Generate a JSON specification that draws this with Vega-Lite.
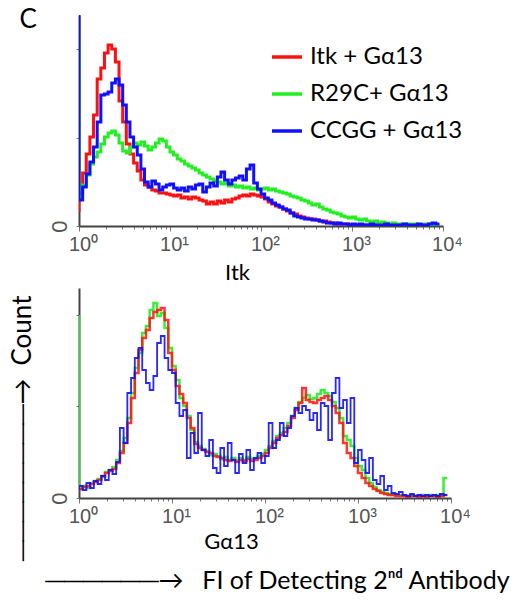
{
"$schema": "https://vega.github.io/schema/vega-lite/v6.json",
"background": "white",
"padding": {"left": 8, "top": 6, "right": 5, "bottom": 5},
"config": {"view": {"stroke": null}, "axis": {"grid": false}},
"datasets": {
"top": [
{"x":1,"r":14,"g":189,"b":211},
{"x":1.096,"r":33,"g":29,"b":26},
{"x":1.202,"r":53,"g":41,"b":39},
{"x":1.318,"r":72,"g":51,"b":52},
{"x":1.445,"r":89,"g":62,"b":64},
{"x":1.585,"r":111,"g":69,"b":79},
{"x":1.738,"r":147,"g":74,"b":104},
{"x":1.905,"r":158,"g":82,"b":131},
{"x":2.089,"r":173,"g":89,"b":132},
{"x":2.291,"r":181,"g":93,"b":134},
{"x":2.512,"r":177,"g":95,"b":143},
{"x":2.754,"r":164,"g":91,"b":147},
{"x":3.02,"r":125,"g":83,"b":141},
{"x":3.311,"r":104,"g":75,"b":121},
{"x":3.631,"r":82,"g":73,"b":104},
{"x":3.981,"r":72,"g":79,"b":89},
{"x":4.365,"r":63,"g":83,"b":79},
{"x":4.786,"r":55,"g":81,"b":71},
{"x":5.248,"r":46,"g":84,"b":57},
{"x":5.754,"r":41,"g":80,"b":44},
{"x":6.31,"r":39,"g":76,"b":39},
{"x":6.918,"r":36,"g":79,"b":45},
{"x":7.586,"r":35,"g":83,"b":42},
{"x":8.318,"r":33,"g":87,"b":36},
{"x":9.12,"r":33,"g":85,"b":39},
{"x":10,"r":32,"g":79,"b":41},
{"x":10.96,"r":31,"g":74,"b":42},
{"x":12.02,"r":30,"g":71,"b":38},
{"x":13.18,"r":31,"g":67,"b":36},
{"x":14.45,"r":28,"g":65,"b":38},
{"x":15.85,"r":29,"g":62,"b":35},
{"x":17.38,"r":27,"g":60,"b":39},
{"x":19.05,"r":29,"g":58,"b":37},
{"x":20.89,"r":28,"g":56,"b":41},
{"x":22.91,"r":26,"g":53,"b":42},
{"x":25.12,"r":25,"g":51,"b":34},
{"x":27.54,"r":22,"g":49,"b":39},
{"x":30.2,"r":24,"g":47,"b":43},
{"x":33.11,"r":22,"g":45,"b":40},
{"x":36.31,"r":25,"g":44,"b":49},
{"x":39.81,"r":23,"g":42,"b":54},
{"x":43.65,"r":26,"g":43,"b":46},
{"x":47.86,"r":24,"g":40,"b":42},
{"x":52.48,"r":27,"g":41,"b":46},
{"x":57.54,"r":28,"g":39,"b":48},
{"x":63.1,"r":30,"g":40,"b":50},
{"x":69.18,"r":31,"g":38,"b":46},
{"x":75.86,"r":30,"g":39,"b":57},
{"x":83.18,"r":32,"g":37,"b":61},
{"x":91.2,"r":31,"g":38,"b":43},
{"x":100,"r":30,"g":36,"b":37},
{"x":109.6,"r":29,"g":37,"b":32},
{"x":120.2,"r":27,"g":38,"b":28},
{"x":131.8,"r":24,"g":36,"b":26},
{"x":144.5,"r":22,"g":37,"b":23},
{"x":158.5,"r":20,"g":35,"b":21},
{"x":173.8,"r":19,"g":34,"b":19},
{"x":190.5,"r":17,"g":33,"b":17},
{"x":208.9,"r":15,"g":32,"b":16},
{"x":229.1,"r":13,"g":30,"b":13},
{"x":251.2,"r":12,"g":29,"b":10},
{"x":275.4,"r":10,"g":28,"b":9},
{"x":302,"r":9,"g":26,"b":8},
{"x":331.1,"r":8,"g":25,"b":7},
{"x":363.1,"r":7,"g":23,"b":7},
{"x":398.1,"r":7,"g":21,"b":6},
{"x":436.5,"r":6,"g":22,"b":6},
{"x":478.6,"r":5,"g":19,"b":5},
{"x":524.8,"r":5,"g":17,"b":4},
{"x":575.4,"r":4,"g":16,"b":3},
{"x":631,"r":3,"g":14,"b":3},
{"x":691.8,"r":3,"g":13,"b":2},
{"x":758.6,"r":2,"g":12,"b":3},
{"x":831.8,"r":2,"g":10,"b":2},
{"x":912,"r":2,"g":9,"b":2},
{"x":1000,"r":1,"g":8,"b":1},
{"x":1096,"r":1,"g":9,"b":2},
{"x":1202,"r":1,"g":7,"b":1},
{"x":1318,"r":1,"g":6,"b":2},
{"x":1445,"r":1,"g":7,"b":1},
{"x":1585,"r":1,"g":5,"b":1},
{"x":1738,"r":1,"g":4,"b":2},
{"x":1905,"r":1,"g":5,"b":1},
{"x":2089,"r":1,"g":3,"b":1},
{"x":2291,"r":1,"g":4,"b":1},
{"x":2512,"r":1,"g":3,"b":2},
{"x":2754,"r":1,"g":2,"b":1},
{"x":3020,"r":1,"g":3,"b":1},
{"x":3311,"r":1,"g":2,"b":1},
{"x":3631,"r":1,"g":2,"b":1},
{"x":3981,"r":1,"g":1,"b":2},
{"x":4365,"r":1,"g":2,"b":1},
{"x":4786,"r":1,"g":1,"b":1},
{"x":5248,"r":1,"g":2,"b":1},
{"x":5754,"r":1,"g":1,"b":2},
{"x":6310,"r":1,"g":1,"b":1},
{"x":6918,"r":1,"g":2,"b":1},
{"x":7586,"r":1,"g":1,"b":2},
{"x":8318,"r":1,"g":1,"b":3},
{"x":9120,"r":1,"g":1,"b":2}
],
"bot": [
{"x":1,"r":8,"g":183,"b":8},
{"x":1.096,"r":9,"g":9,"b":12},
{"x":1.202,"r":11,"g":12,"b":8},
{"x":1.318,"r":12,"g":10,"b":15},
{"x":1.445,"r":14,"g":15,"b":10},
{"x":1.585,"r":16,"g":17,"b":17},
{"x":1.738,"r":18,"g":19,"b":14},
{"x":1.905,"r":22,"g":21,"b":22},
{"x":2.089,"r":25,"g":26,"b":18},
{"x":2.291,"r":27,"g":28,"b":28},
{"x":2.512,"r":29,"g":31,"b":24},
{"x":2.754,"r":35,"g":38,"b":36},
{"x":3.02,"r":45,"g":47,"b":70},
{"x":3.311,"r":55,"g":60,"b":55},
{"x":3.631,"r":75,"g":80,"b":105},
{"x":3.981,"r":100,"g":105,"b":120},
{"x":4.365,"r":125,"g":130,"b":140},
{"x":4.786,"r":148,"g":145,"b":150},
{"x":5.248,"r":160,"g":165,"b":128},
{"x":5.754,"r":168,"g":172,"b":115},
{"x":6.31,"r":180,"g":188,"b":108},
{"x":6.918,"r":186,"g":195,"b":122},
{"x":7.586,"r":188,"g":182,"b":155},
{"x":8.318,"r":190,"g":185,"b":162},
{"x":9.12,"r":178,"g":170,"b":140},
{"x":10,"r":145,"g":150,"b":128},
{"x":10.96,"r":128,"g":132,"b":125},
{"x":12.02,"r":112,"g":118,"b":95},
{"x":13.18,"r":104,"g":100,"b":82},
{"x":14.45,"r":95,"g":92,"b":88},
{"x":15.85,"r":80,"g":82,"b":40},
{"x":17.38,"r":70,"g":68,"b":65},
{"x":19.05,"r":54,"g":56,"b":45},
{"x":20.89,"r":50,"g":52,"b":85},
{"x":22.91,"r":48,"g":49,"b":48},
{"x":25.12,"r":46,"g":47,"b":42},
{"x":27.54,"r":45,"g":43,"b":58},
{"x":30.2,"r":42,"g":44,"b":30},
{"x":33.11,"r":41,"g":42,"b":25},
{"x":36.31,"r":40,"g":39,"b":50},
{"x":39.81,"r":38,"g":41,"b":32},
{"x":43.65,"r":37,"g":38,"b":55},
{"x":47.86,"r":38,"g":40,"b":38},
{"x":52.48,"r":36,"g":37,"b":25},
{"x":57.54,"r":38,"g":40,"b":44},
{"x":63.1,"r":37,"g":38,"b":35},
{"x":69.18,"r":39,"g":41,"b":48},
{"x":75.86,"r":37,"g":39,"b":28},
{"x":83.18,"r":38,"g":40,"b":40},
{"x":91.2,"r":40,"g":42,"b":45},
{"x":100,"r":42,"g":44,"b":35},
{"x":109.6,"r":45,"g":48,"b":42},
{"x":120.2,"r":50,"g":52,"b":75},
{"x":131.8,"r":55,"g":57,"b":50},
{"x":144.5,"r":60,"g":62,"b":58},
{"x":158.5,"r":63,"g":65,"b":75},
{"x":173.8,"r":66,"g":70,"b":62},
{"x":190.5,"r":72,"g":75,"b":70},
{"x":208.9,"r":80,"g":82,"b":82},
{"x":229.1,"r":88,"g":90,"b":90},
{"x":251.2,"r":95,"g":96,"b":85},
{"x":275.4,"r":110,"g":100,"b":92},
{"x":302,"r":98,"g":103,"b":88},
{"x":331.1,"r":96,"g":99,"b":78},
{"x":363.1,"r":95,"g":100,"b":85},
{"x":398.1,"r":98,"g":104,"b":68},
{"x":436.5,"r":100,"g":108,"b":95},
{"x":478.6,"r":102,"g":105,"b":92},
{"x":524.8,"r":98,"g":102,"b":58},
{"x":575.4,"r":92,"g":96,"b":105},
{"x":631,"r":85,"g":90,"b":120},
{"x":691.8,"r":75,"g":80,"b":90},
{"x":758.6,"r":55,"g":62,"b":98},
{"x":831.8,"r":45,"g":58,"b":75},
{"x":912,"r":40,"g":52,"b":100},
{"x":1000,"r":32,"g":40,"b":35},
{"x":1096,"r":25,"g":32,"b":48},
{"x":1202,"r":20,"g":28,"b":38},
{"x":1318,"r":15,"g":20,"b":25},
{"x":1445,"r":12,"g":15,"b":40},
{"x":1585,"r":9,"g":11,"b":18},
{"x":1738,"r":7,"g":8,"b":14},
{"x":1905,"r":5,"g":6,"b":22},
{"x":2089,"r":4,"g":5,"b":8},
{"x":2291,"r":3,"g":4,"b":12},
{"x":2512,"r":3,"g":3,"b":5},
{"x":2754,"r":2,"g":3,"b":4},
{"x":3020,"r":2,"g":3,"b":6},
{"x":3311,"r":2,"g":2,"b":3},
{"x":3631,"r":1,"g":2,"b":2},
{"x":3981,"r":2,"g":3,"b":4},
{"x":4365,"r":2,"g":2,"b":2},
{"x":4786,"r":1,"g":2,"b":3},
{"x":5248,"r":2,"g":3,"b":2},
{"x":5754,"r":1,"g":2,"b":3},
{"x":6310,"r":2,"g":3,"b":2},
{"x":6918,"r":2,"g":2,"b":3},
{"x":7586,"r":1,"g":3,"b":2},
{"x":8318,"r":2,"g":2,"b":4},
{"x":9120,"r":3,"g":20,"b":3}
]
},
"title": {"text": "──────→\u2003FI of Detecting 2ⁿᵈ Antibody", "orient": "bottom", "anchor": "start", "frame": "bounds", "dx": 37, "offset": 9, "fontSize": 25, "fontWeight": "normal", "font": "Lato", "color": "black"},
"spacing": 5,
"resolve": {"legend": {"color": "independent"}},
"vconcat": [
{
"width": 364, "height": 211,
"data": {"name": "top"},
"encoding": {
"x": {"field": "x", "type": "quantitative", "scale": {"type": "log", "domain": [1, 10000], "nice": false},
"axis": {"values": [1,2,3,4,5,6,7,8,9,10,20,30,40,50,60,70,80,90,100,200,300,400,500,600,700,800,900,1000,2000,3000,4000,5000,6000,7000,8000,9000,10000],
"labelExpr": "datum.value == 1 ? '10⁰' : datum.value == 10 ? '10¹' : datum.value == 100 ? '10²' : datum.value == 1000 ? '10³' : datum.value == 10000 ? '10⁴' : ''",
"labelOverlap": false, "labelFlush": false, "labelFont": "Liberation Sans", "labelFontSize": 20, "labelColor": "#555", "labelPadding": 3, "labelOffset": 4,
"tickSize": {"condition": {"test": "datum.value == 1 || datum.value == 10 || datum.value == 100 || datum.value == 1000 || datum.value == 10000", "value": 5}, "value": 3},
"tickColor": "#777", "domainColor": "#444", "domainWidth": 2,
"title": "Itk", "titleFont": "Lato", "titleFontSize": 22, "titleFontWeight": "normal", "titleColor": "black", "titleX": 158, "titleY": 53, "titleBaseline": "alphabetic", "titleAlign": "center"}}
},
"layer": [
{"mark": {"type": "line", "interpolate": "step-before", "strokeWidth": 3, "clip": true},
"encoding": {"y": {"field": "r", "type": "quantitative", "scale": {"domain": [0, 211], "nice": false},
"axis": {"values": [0, 88, 177], "labelExpr": "datum.value == 0 ? '0' : ''", "labelAngle": 270, "labelFont": "Liberation Sans", "labelFontSize": 22, "labelColor": "#555", "labelPadding": 5, "tickSize": 3, "tickColor": "#777", "domainColor": "#444", "domainWidth": 2,
"title": "C", "titleAngle": 0, "titleAlign": "left", "titleBaseline": "top", "titleX": -60, "titleY": -9, "titleFont": "Lato", "titleFontSize": 26, "titleFontWeight": "normal", "titleColor": "black"}},
"color": {"datum": "Itk + Gα13", "scale": {"domain": ["Itk + Gα13", "R29C+ Gα13", "CCGG + Gα13"], "range": ["#ff1010", "#22ee22", "#1010ff"]},
"legend": {"orient": "none", "legendX": 191, "legendY": 25, "title": null, "symbolType": "stroke", "symbolSize": 900, "symbolStrokeWidth": 3.5, "labelFont": "Lato", "labelFontSize": 24, "labelColor": "black", "labelOffset": 6, "rowPadding": 8, "labelLimit": 300,
"encode": {"symbols": {"update": {"stroke": {"signal": "datum.value == 'Itk + Gα13' ? '#ee1c24' : datum.value == 'R29C+ Gα13' ? '#92d050' : '#0070c0'"}}}}}}}},
{"mark": {"type": "line", "interpolate": "step-before", "strokeWidth": 3, "clip": true},
"encoding": {"y": {"field": "g", "type": "quantitative",
"axis": {"values": [0, 88, 177], "labelExpr": "datum.value == 0 ? '0' : ''", "labelAngle": 270, "labelFont": "Liberation Sans", "labelFontSize": 22, "labelColor": "#555", "labelPadding": 5, "tickSize": 3, "tickColor": "#777", "domainColor": "#444", "domainWidth": 2,
"title": "C", "titleAngle": 0, "titleAlign": "left", "titleBaseline": "top", "titleX": -60, "titleY": -9, "titleFont": "Lato", "titleFontSize": 26, "titleFontWeight": "normal", "titleColor": "black"}},
"color": {"datum": "R29C+ Gα13"}}},
{"mark": {"type": "line", "interpolate": "step-before", "strokeWidth": 3, "clip": true},
"encoding": {"y": {"field": "b", "type": "quantitative",
"axis": {"values": [0, 88, 177], "labelExpr": "datum.value == 0 ? '0' : ''", "labelAngle": 270, "labelFont": "Liberation Sans", "labelFontSize": 22, "labelColor": "#555", "labelPadding": 5, "tickSize": 3, "tickColor": "#777", "domainColor": "#444", "domainWidth": 2,
"title": "C", "titleAngle": 0, "titleAlign": "left", "titleBaseline": "top", "titleX": -60, "titleY": -9, "titleFont": "Lato", "titleFontSize": 26, "titleFontWeight": "normal", "titleColor": "black"}},
"color": {"datum": "CCGG + Gα13"}}}
]
},
{
"width": 372, "height": 210,
"data": {"name": "bot"},
"encoding": {
"x": {"field": "x", "type": "quantitative", "scale": {"type": "log", "domain": [1, 10000], "nice": false},
"axis": {"values": [1,2,3,4,5,6,7,8,9,10,20,30,40,50,60,70,80,90,100,200,300,400,500,600,700,800,900,1000,2000,3000,4000,5000,6000,7000,8000,9000,10000],
"labelExpr": "datum.value == 1 ? '10⁰' : datum.value == 10 ? '10¹' : datum.value == 100 ? '10²' : datum.value == 1000 ? '10³' : datum.value == 10000 ? '10⁴' : ''",
"labelOverlap": false, "labelFlush": false, "labelFont": "Liberation Sans", "labelFontSize": 20, "labelColor": "#555", "labelPadding": 3, "labelOffset": 4,
"tickSize": {"condition": {"test": "datum.value == 1 || datum.value == 10 || datum.value == 100 || datum.value == 1000 || datum.value == 10000", "value": 5}, "value": 3},
"tickColor": "#777", "domainColor": "#444", "domainWidth": 2,
"title": "Gα13", "titleFont": "Lato", "titleFontSize": 22, "titleFontWeight": "normal", "titleColor": "black", "titleX": 152, "titleY": 50, "titleBaseline": "alphabetic", "titleAlign": "center"}}
},
"layer": [
{"mark": {"type": "line", "interpolate": "step-before", "strokeWidth": 2.5, "clip": true, "color": "#22ee22", "opacity": 0.9},
"encoding": {"y": {"field": "g", "type": "quantitative", "scale": {"domain": [0, 210], "nice": false},
"axis": {"values": [0, 92, 183], "labelExpr": "datum.value == 0 ? '0' : ''", "labelAngle": 270, "labelFont": "Liberation Sans", "labelFontSize": 22, "labelColor": "#555", "labelPadding": 5, "tickSize": 3, "tickColor": "#777", "domainColor": "#444", "domainWidth": 2,
"title": "────────→\u2002Count", "titleAngle": 270, "titleAlign": "left", "titleBaseline": "middle", "titleX": -57, "titleY": 272, "titleFont": "Lato", "titleFontSize": 26, "titleFontWeight": "normal", "titleColor": "black"}}}},
{"mark": {"type": "line", "interpolate": "step-before", "strokeWidth": 2.5, "clip": true, "color": "#ff1010", "opacity": 0.85},
"encoding": {"y": {"field": "r", "type": "quantitative",
"axis": {"values": [0, 92, 183], "labelExpr": "datum.value == 0 ? '0' : ''", "labelAngle": 270, "labelFont": "Liberation Sans", "labelFontSize": 22, "labelColor": "#555", "labelPadding": 5, "tickSize": 3, "tickColor": "#777", "domainColor": "#444", "domainWidth": 2,
"title": "────────→\u2002Count", "titleAngle": 270, "titleAlign": "left", "titleBaseline": "middle", "titleX": -57, "titleY": 272, "titleFont": "Lato", "titleFontSize": 26, "titleFontWeight": "normal", "titleColor": "black"}}}},
{"mark": {"type": "line", "interpolate": "step-before", "strokeWidth": 1.8, "clip": true, "color": "#1010ff", "opacity": 0.9},
"encoding": {"y": {"field": "b", "type": "quantitative",
"axis": {"values": [0, 92, 183], "labelExpr": "datum.value == 0 ? '0' : ''", "labelAngle": 270, "labelFont": "Liberation Sans", "labelFontSize": 22, "labelColor": "#555", "labelPadding": 5, "tickSize": 3, "tickColor": "#777", "domainColor": "#444", "domainWidth": 2,
"title": "────────→\u2002Count", "titleAngle": 270, "titleAlign": "left", "titleBaseline": "middle", "titleX": -57, "titleY": 272, "titleFont": "Lato", "titleFontSize": 26, "titleFontWeight": "normal", "titleColor": "black"}}}}
]
}
]
}
